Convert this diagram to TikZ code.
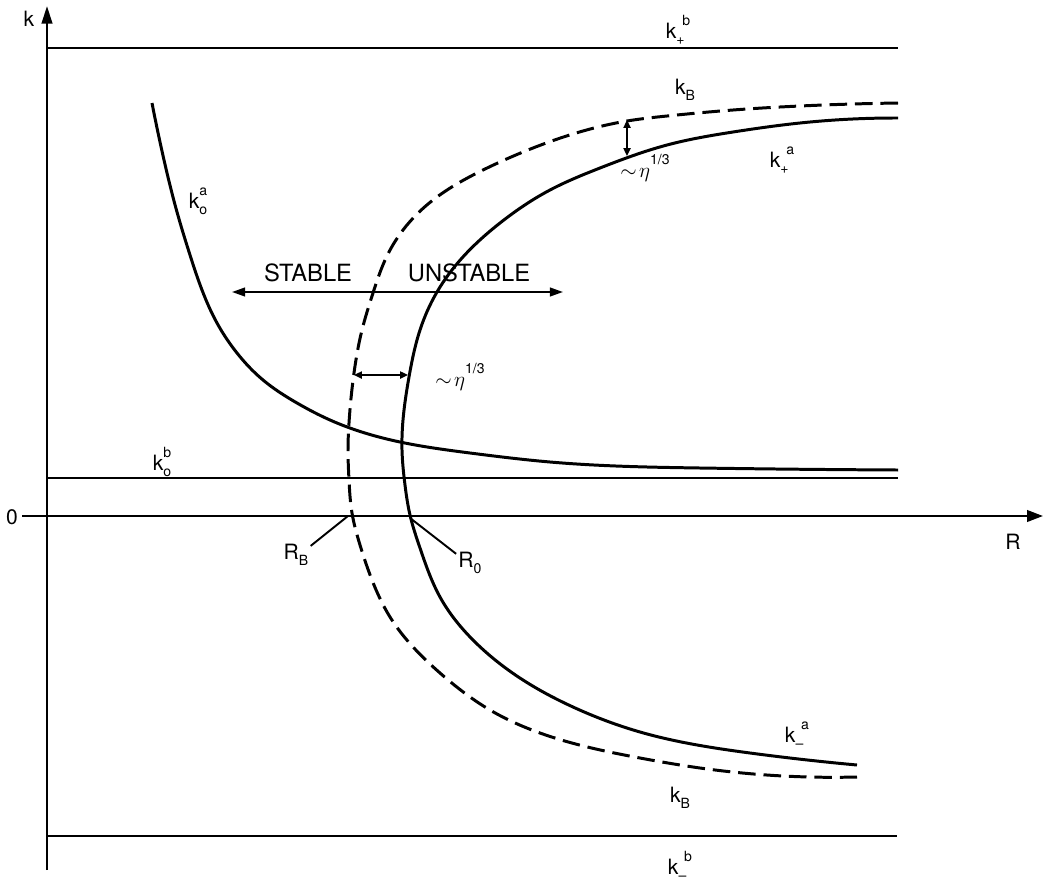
\documentclass[tikz,border=0pt]{standalone}
\usepackage{fontspec}
\setmainfont{TeX Gyre Heros}
\usetikzlibrary{arrows.meta,hobby}
\newcommand{\kst}[2]{k\rlap{\raisebox{-0.55ex}{\footnotesize #1}}\raisebox{1.15ex}{\footnotesize #2}}
\newcommand{\kof}[2]{k\raisebox{-0.55ex}{\footnotesize #1}\kern-0.1em\raisebox{1.15ex}{\footnotesize #2}}
\newcommand{\etathird}{$\sim\!\eta$\raisebox{1.2ex}{\footnotesize 1/3}}
\begin{document}
\begin{tikzpicture}[x=0.02cm,y=-0.02cm,
  axis/.style={line width=1.3pt},
  level/.style={line width=1.2pt},
  curve/.style={line width=1.7pt},
  dcurve/.style={line width=1.7pt,dash pattern=on 10pt off 4.5pt},
  lbl/.style={inner sep=0pt,font=\fontsize{12}{14}\selectfont},
  big/.style={inner sep=0pt,font=\fontsize{13.5}{16}\selectfont},
  dimarrow/.style={line width=1.1pt,{Triangle[length=4.5pt,width=4pt]}-{Triangle[length=4.5pt,width=4pt]}},
  leader/.style={line width=1.1pt}]
\useasboundingbox (0,0) rectangle (1045,886);
% axes
\coordinate (ytop) at (47,6);
\coordinate (ybot) at (47,870);
\coordinate (xl) at (22,516);
\coordinate (xr) at (1043,516);
\draw[axis,-{Triangle[length=10pt,width=6pt]}] (ybot) -- (ytop);
\draw[axis,-{Triangle[length=9pt,width=6.5pt]}] (xl) -- (xr);
\node[lbl] (klab) at (29,19) {k};
\node[lbl] (zero) at (12,517) {0};
\node[lbl] (rlab) at (1013,542) {R};
% horizontal levels
\coordinate (kpb1) at (47,48);  \coordinate (kpb2) at (898,48);
\coordinate (kob1) at (47,478); \coordinate (kob2) at (898,478);
\coordinate (kmb1) at (47,836); \coordinate (kmb2) at (897,836);
\draw[level] (kpb1) -- (kpb2);
\draw[level] (kob1) -- (kob2);
\draw[level] (kmb1) -- (kmb2);
\node[lbl] (kpblab) at (678,30) {\kof{+}{b}};
\node[lbl] (koblab) at (162,462) {\kst{o}{b}};
\node[lbl] (kmblab) at (680,866) {\kof{--}{b}};
% k_o^a curve
\draw[curve,use Hobby shortcut] (152,103) .. (164,160) .. (177,212) .. (190,255) .. (202,290) .. (217,323) .. (237,353) .. (263,380) .. (297,403) .. (330,420) .. (400,442) .. (470,453) .. (550,462) .. (700,468) .. (898,470);
\node[lbl] (koalab) at (198,201) {\kst{o}{a}};
% solid curve
\draw[curve,use Hobby shortcut] (898,118) .. (800,123) .. (733,132) .. (667,145) .. (600,168) .. (550,190) .. (500,223) .. (462,258) .. (437,292) .. (420,330) .. (409,377) .. (403,420) .. (402,450) .. (405,485) .. (410,515) .. (420,548) .. (440,597) .. (473,640) .. (523,680) .. (573,707) .. (640,732) .. (750,753) .. (857,765);
% dashed curve
\draw[dcurve,use Hobby shortcut] (898,103) .. (800,106) .. (733,110) .. (667,116) .. (627,121) .. (583,131) .. (533,148) .. (483,170) .. (433,200) .. (403,230) .. (386,258) .. (373,293) .. (362,330) .. (354,373) .. (349,423) .. (348,450) .. (349,480) .. (352,513) .. (360,545) .. (372,580) .. (390,617) .. (440,673) .. (490,710) .. (540,733) .. (640,758) .. (700,768) .. (857,777);
\node[lbl] (kBtop) at (685,90) {k\raisebox{-0.55ex}{\footnotesize B}};
\node[lbl] (kBbot) at (680,798) {k\raisebox{-0.55ex}{\footnotesize B}};
\node[lbl] (kpalab) at (782,160) {\kof{+}{a}};
\node[lbl] (kmalab) at (797,735) {\kof{--}{a}};
% stable / unstable arrow
\coordinate (stl) at (232,292);
\coordinate (str) at (563,292);
\draw[leader,{Triangle[length=7.5pt,width=5pt]}-{Triangle[length=7.5pt,width=5pt]}] (stl) -- (str);
\node[big] (stable) at (308,273) {STABLE};
\node[big] (unstable) at (469,273) {UNSTABLE};
% eta arrows
\coordinate (e1a) at (627,120);
\coordinate (e1b) at (627,156);
\draw[dimarrow] (e1a) -- (e1b);
\node[lbl] (eta1) at (645,168) {\etathird};
\coordinate (e2a) at (354,375);
\coordinate (e2b) at (408,375);
\draw[dimarrow] (e2a) -- (e2b);
\node[lbl] (eta2) at (460,377) {\etathird};
% R_B, R_0
\node[lbl] (rb) at (296,555) {R\raisebox{-0.55ex}{\footnotesize B}};
\node[lbl] (r0) at (470,563) {R\raisebox{-0.55ex}{\footnotesize 0}};
\coordinate (rbp) at (348,516);
\coordinate (r0p) at (410,518);
\draw[leader] (rb.north east) ++(2,2) -- (rbp);
\draw[leader] (r0.north west) ++(-2,2) -- (r0p);
\end{tikzpicture}
\end{document}
